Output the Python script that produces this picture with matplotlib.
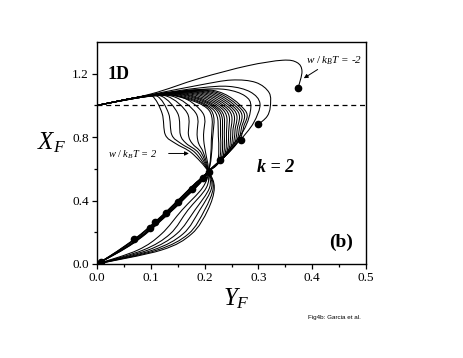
import numpy as np
import matplotlib
matplotlib.use("Agg")
import matplotlib.pyplot as plt
from matplotlib.path import Path
from matplotlib.patches import PathPatch

plt.rcParams["font.family"] = "Liberation Serif"
plt.rcParams["mathtext.fontset"] = "custom"
plt.rcParams["mathtext.rm"] = "Liberation Serif"
plt.rcParams["mathtext.it"] = "Liberation Serif:italic"
plt.rcParams["mathtext.bf"] = "Liberation Serif:bold"

# end points of the curves (dots)
dot_x = [0.374, 0.300, 0.267, 0.229, 0.209, 0.197, 0.176, 0.150, 0.128, 0.107, 0.098, 0.069, 0.0074]
dot_y = [1.112, 0.880, 0.783, 0.657, 0.577, 0.541, 0.476, 0.394, 0.324, 0.263, 0.225, 0.156, 0.015]

# four outer loops (w/kBT = -2 and the next ones), read point by point
loop_x = [
    [0.0, 0.10, 0.19, 0.28, 0.345, 0.372, 0.381, 0.374],
    [0.0, 0.10, 0.19, 0.25, 0.295, 0.320, 0.322, 0.316, 0.300],
    [0.0, 0.10, 0.19, 0.245, 0.285, 0.303, 0.291, 0.267],
    [0.0, 0.10, 0.19, 0.240, 0.275, 0.286, 0.272, 0.229],
]
loop_y = [
    [1.0, 1.072, 1.17, 1.25, 1.285, 1.27, 1.215, 1.112],
    [1.0, 1.068, 1.128, 1.16, 1.145, 1.08, 0.99, 0.93, 0.880],
    [1.0, 1.066, 1.11, 1.12, 1.085, 1.01, 0.89, 0.783],
    [1.0, 1.065, 1.10, 1.10, 1.06, 0.99, 0.84, 0.657],
]

# dense fan of loops converging on the crossing point
fan_right_x = [0.275, 0.270, 0.265, 0.260, 0.255, 0.250, 0.245, 0.240,
               0.235, 0.230, 0.226, 0.222, 0.217, 0.212, 0.208]
fan_top_y = [1.095, 1.092, 1.089, 1.086, 1.083, 1.080, 1.077, 1.074,
             1.071, 1.068, 1.066, 1.064, 1.062, 1.060, 1.058]
fan_merge_y = [0.76, 0.75, 0.74, 0.73, 0.72, 0.71, 0.70, 0.69,
               0.68, 0.67, 0.66, 0.65, 0.64, 0.60, 0.60]
fan_end_dot = [4, 5, 6, 7, 8, 9, 10, 11, 12, -1, -1, -1, -1, -1, -1]
fan_dx = [0.0, 0.002, -0.002, 0.004, -0.003, 0.005, 0.001, 0.003,
          -0.001, 0.004, -0.002, 0.005, 0.006, -0.003, 0.002]

# crossing point and the common lower branch
cross_x, cross_y = 0.207, 0.583
bundle_x = [0.186, 0.162, 0.138, 0.112, 0.085, 0.055, 0.025, 0.0]
bundle_y = [0.510, 0.430, 0.350, 0.270, 0.190, 0.115, 0.050, 0.0]

# S-shaped curves (w/kBT = 2 side) and their lower bows
s_leave_x = [0.103, 0.112, 0.120, 0.130, 0.140, 0.152]
s_x95 = [0.121, 0.133, 0.150, 0.168, 0.184, 0.197]
s_x82 = [0.127, 0.139, 0.155, 0.170, 0.186, 0.198]
s_x76 = [0.146, 0.156, 0.166, 0.177, 0.189, 0.199]
s_x70 = [0.176, 0.183, 0.189, 0.194, 0.198, 0.202]
bow_x48 = [0.218, 0.216, 0.213, 0.209, 0.203, 0.196]
bow_x34 = [0.206, 0.200, 0.191, 0.182, 0.169, 0.158]
bow_x19 = [0.176, 0.170, 0.160, 0.148, 0.136, 0.120]
bow_x09 = [0.120, 0.112, 0.104, 0.095, 0.086, 0.076]

yticks = [0.0, 0.4, 0.8, 1.2]
xticks = [0.0, 0.1, 0.2, 0.3, 0.4, 0.5]


def smooth(xs, ys):
    p = np.column_stack([xs, ys]).astype(float)
    q = np.vstack([p[0], p, p[-1]])
    verts = [p[0]]
    codes = [Path.MOVETO]
    for i in range(1, len(q) - 2):
        c1 = q[i] + (q[i + 1] - q[i - 1]) / 6
        c2 = q[i + 1] - (q[i + 2] - q[i]) / 6
        verts += [c1, c2, q[i + 1]]
        codes += [Path.CURVE4] * 3
    return Path(verts, codes)


def draw(ax, xs, ys):
    ax.add_patch(PathPatch(smooth(xs, ys), fc="none", ec="k", lw=0.75))


fig = plt.figure(figsize=(4.63, 3.58), dpi=100)
ax = fig.add_axes([0.2095, 0.2626, 0.581, 0.6201])

for xs, ys in zip(loop_x, loop_y):
    draw(ax, xs, ys)

for i in range(len(fan_right_x)):
    xr = fan_right_x[i]
    xs = [0.0, 0.10, xr - 0.06, xr]
    ys = [1.0, 1.064, fan_top_y[i], 0.97]
    my = fan_merge_y[i]
    mx = cross_x + (my - cross_y) / 3.33
    if my > 0.62:
        xs += [0.5 * (xr + mx) + 0.005, mx]
        ys += [0.5 * (0.97 + my), my]
    else:
        xs += [0.5 * (xr + cross_x) + 0.005]
        ys += [0.78]
    xs.append(cross_x)
    ys.append(cross_y)
    k = fan_end_dot[i]
    stop = dot_y[k] if k >= 0 else -1
    for bx, by in zip(bundle_x, bundle_y):
        if by > stop + 0.02:
            xs.append(bx + fan_dx[i] * min(1.0, by / 0.12))
            ys.append(by)
    if k >= 0:
        xs.append(dot_x[k])
        ys.append(dot_y[k])
    draw(ax, xs, ys)

for i in range(len(s_leave_x)):
    xs = [0.0, 0.08, s_leave_x[i], s_x95[i], s_x82[i], s_x76[i], s_x70[i], cross_x,
          bow_x48[i], bow_x34[i], bow_x19[i], bow_x09[i], 0.0]
    ys = [1.0, 1.05, 1.058, 0.95, 0.815, 0.76, 0.70, cross_y,
          0.48, 0.34, 0.19, 0.088, 0.0]
    draw(ax, xs, ys)

ax.plot(dot_x, dot_y, "o", color="k", ms=4.5, ls="none")
ax.axhline(1.0, color="k", lw=0.9, ls=(0, (4, 3)))

ax.set_xlim(0, 0.5)
ax.set_ylim(0, 1.4)
ax.set_xticks(xticks)
ax.set_yticks(yticks)
ax.set_xticks([0.05, 0.15, 0.25, 0.35, 0.45], minor=True)
ax.set_yticks([0.2, 0.6, 1.0], minor=True)
ax.set_xticklabels([f"{v:.1f}" for v in xticks])
ax.set_yticklabels([f"{v:.1f}" for v in yticks])
ax.tick_params(which="major", direction="out", length=3.5, width=0.9, labelsize=9.5, pad=2.5)
ax.tick_params(which="minor", direction="out", length=2, width=0.9)
for s in ax.spines.values():
    s.set_linewidth(1.0)

ax.text(0.02, 1.165, "1D", fontsize=13, fontweight="bold")
ax.text(0.297, 0.577, "k = 2", fontsize=13, fontweight="bold", fontstyle="italic")
ax.text(0.431, 0.105, "(b)", fontsize=14, fontweight="bold")
ax.text(0.388, 1.263, r"$w\ /\ k_BT$ = -2", fontsize=8, fontstyle="italic")
ax.annotate("", xy=(0.380, 1.162), xytext=(0.4145, 1.236),
            arrowprops=dict(arrowstyle="-|>", color="k", lw=0.7, mutation_scale=6))
ax.text(0.021, 0.69, r"$w\ /\ k_BT$ = 2", fontsize=7.5, fontstyle="italic", va="center")
ax.annotate("", xy=(0.176, 0.697), xytext=(0.128, 0.697),
            arrowprops=dict(arrowstyle="-|>", color="k", lw=0.7, mutation_scale=6))

ax.text(-0.223, 0.514, r"$X_F$", fontsize=18, transform=ax.transAxes)
ax.text(0.468, -0.185, r"$Y_F$", fontsize=18, transform=ax.transAxes)
fig.text(0.665, 0.114, "Fig4b: Garcia et al.", fontsize=4.5, family="Liberation Sans", va="center")

fig.savefig("out.png", dpi=100)
